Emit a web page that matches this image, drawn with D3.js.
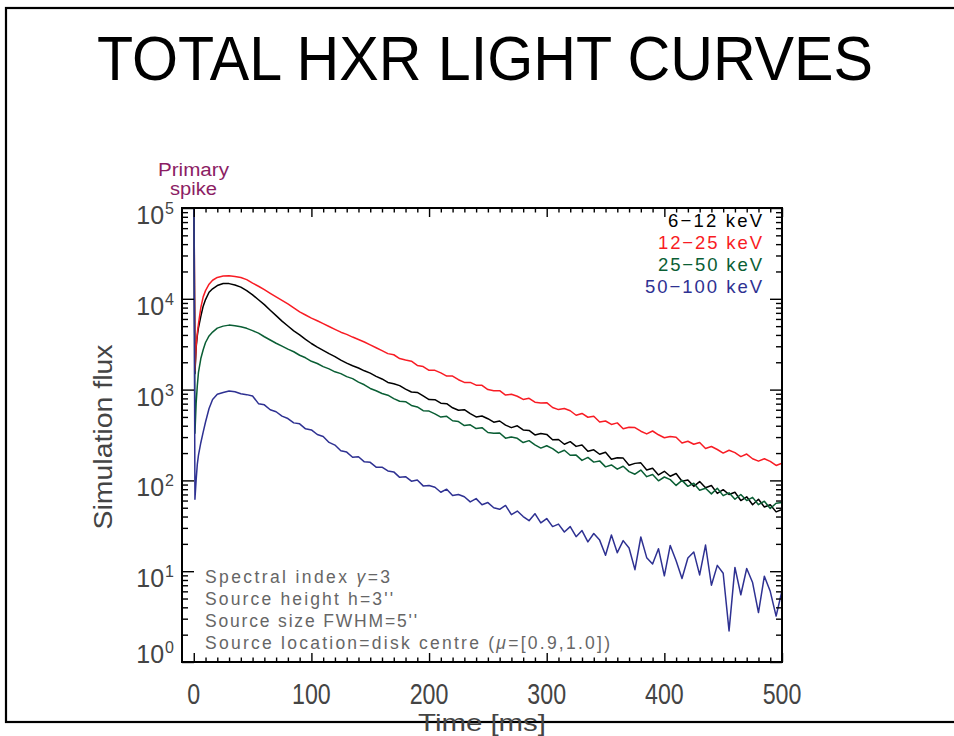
<!DOCTYPE html>
<html><head><meta charset="utf-8">
<script src="https://cdn.jsdelivr.net/npm/d3@7"></script>
<style>body{margin:0;background:#fff;} svg{display:block;}</style>
</head><body><svg id="c" width="954" height="736"></svg>
<script>
// ---------------- data ----------------
const time = [0,1,2,3,4,6,8,10,13,16,
  20,25,30,35,40,45,50,55,60,65,70,75,80,85,90,95,100,105,110,115,120,125,130,135,140,145,150,155,
  160,165,170,175,180,185,190,195,200,205,210,215,220,225,230,235,240,245,250,255,
  260,265,270,275,280,285,290,295,300,305,310,315,320,325,330,335,340,345,350,355,
  360,365,370,375,380,385,390,395,400,405,410,415,420,425,430,435,440,445,450,455,
  460,465,470,475,480,485,490,495,500];

const flux6_12 = [400000,1500,2900,3900,4800,6400,8300,9800,11800,12900,
  14000,14750,14700,14200,13450,12300,11050,9750,8620,7480,6530,5680,5020,4430,4010,3580,3220,2940,2710,2490,2310,2110,1960,1830,1730,1610,1520,1400,
  1310,1200,1162,1105,1011,940,931,851,776,774,709,699,631,592,601,543,500,512,478,438,
  451,406,381,399,360,355,317,329,321,280,282,250,267,237,245,209,217,194,204,171,
  178,176,147,154,156,130,136,115,126,111,119,98,101,86,97,83,88,72,79,70,
  74,60,66,54,62,51,54,45,48];

const flux12_25 = [400000,1600,3000,4200,5300,8000,10500,12300,14500,16000,
  17200,17800,17900,17650,17150,16250,14850,13750,12650,11500,10500,9620,8780,7930,7180,6630,6120,5730,5330,4960,4610,4290,4060,3790,3560,3340,3110,2890,
  2690,2490,2420,2195,2115,2055,1845,1795,1630,1630,1530,1410,1410,1285,1200,1200,1120,1115,1000,972,
  972,870,888,845,780,802,726,711,718,635,602,618,585,522,546,496,508,439,451,413,
  430,371,385,382,348,325,350,318,295,305,299,258,270,250,262,225,236,219,200,215,
  202,183,195,173,163,173,162,146,155];

const flux25_50 = [400000,330,700,1100,1550,2200,2750,3300,3900,4300,
  4750,5000,5130,5060,4920,4730,4460,4190,3820,3520,3240,3010,2790,2610,2390,2240,2050,1940,1790,1690,1570,1500,1390,1320,1210,1130,1030,970,
  905,868,796,744,737,669,644,585,580,541,498,508,454,445,402,410,372,381,337,330,
  333,292,301,291,261,274,246,227,241,224,201,215,189,190,166,179,159,164,141,148,
  133,143,125,117,130,110,116,99,109,102,88,100,86,93,78,82,71,82,68,73,
  62,70,60,65,54,59,49,56,57];

const flux50_100 = [400000,62,100,150,190,260,340,440,620,780,
  890,930,965,945,900,880,850,700,680,600,570,510,480,430,420,370,360,320,305,262,245,212,205,180,182,160,158,140,
  140,127,124,108,110,98,101,87,88,84,74,80,68,70,66,58,63,54,57,50,
  48,53,42,46,40,36,43,34,38,31,33,27,31,24,28,21,26,22,15,25,
  16,21.7,18,10.4,23.8,14.1,12,17.7,8.9,19.2,13,8.3,14,16.3,9.1,19.4,7,11.6,9.5,2.2,
  11,5.5,10.7,7.5,3.5,8.8,6,3.2,6.1];

const seriesNames = ["6\u221212 keV","12\u221225 keV","25\u221250 keV","50\u2212100 keV"];
const seriesData = [flux6_12, flux12_25, flux25_50, flux50_100];
const seriesColors = ["#000000","#f81c24","#0a5e34","#2e3192"];
const xTickLabels = [0,100,200,300,400,500];
const yTickValues = [1,10,100,1000,10000,100000];
const yTickExponents = ["0","1","2","3","4","5"];
const titleText = "TOTAL HXR LIGHT CURVES";
const xTitle = "Time [ms]";
const yTitle = "Simulation flux";
const spikeLabel = ["Primary","spike"];

// ---------------- layout ----------------
const svg = d3.select("#c");
const L = 182, R = 782, T = 208, B = 662;
const x = d3.scaleLinear().domain([-10, 500]).range([L, R]);
const y = d3.scaleLog().domain([1, 1e5]).range([B, T]);
const FONT = "'Liberation Sans', Arial, Helvetica, sans-serif";

// slide frame
svg.append("rect").attr("x", 6).attr("y", 8).attr("width", 1000).attr("height", 714)
  .attr("fill", "none").attr("stroke", "#000").attr("stroke-width", 2.2);

// title
svg.append("text").attr("x", 485).attr("y", 80).attr("text-anchor", "middle")
  .attr("font-family", FONT).attr("font-size", 63)
  .attr("textLength", 776).attr("lengthAdjust", "spacingAndGlyphs")
  .attr("fill", "#000").text(titleText);

// clip
svg.append("clipPath").attr("id", "plotclip").append("rect")
  .attr("x", L).attr("y", T).attr("width", R - L).attr("height", B - T);

// curves
const line = d3.line().x((d, i) => x(time[i])).y(d => y(d));
const gLines = svg.append("g").attr("clip-path", "url(#plotclip)");
seriesData.forEach((s, k) => {
  gLines.append("path").datum(s).attr("d", line)
    .attr("fill", "none").attr("stroke", seriesColors[k])
    .attr("stroke-width", 1.5).attr("stroke-linejoin", "round");
});

// axes ticks (inward, all four sides)
const xMinor = d3.range(0, 501, 10).filter(v => v % 100 !== 0);
const yMinor = [];
[1, 10, 100, 1000, 10000].forEach(d => { for (let m = 2; m <= 9; m++) yMinor.push(m * d); });

function styleAxis(g) {
  g.select(".domain").remove();
  g.selectAll(".tick line").attr("stroke", "#000").attr("stroke-width", 1.4);
  g.selectAll(".tick text").remove();
}
svg.append("g").attr("transform", `translate(0,${B})`)
  .call(d3.axisBottom(x).tickValues(xTickLabels).tickSize(-9).tickFormat("")).call(styleAxis);
svg.append("g").attr("transform", `translate(0,${B})`)
  .call(d3.axisBottom(x).tickValues(xMinor).tickSize(-4.5).tickFormat("")).call(styleAxis);
svg.append("g").attr("transform", `translate(0,${T})`)
  .call(d3.axisTop(x).tickValues(xTickLabels).tickSize(-9).tickFormat("")).call(styleAxis);
svg.append("g").attr("transform", `translate(0,${T})`)
  .call(d3.axisTop(x).tickValues(xMinor).tickSize(-4.5).tickFormat("")).call(styleAxis);
svg.append("g").attr("transform", `translate(${L},0)`)
  .call(d3.axisLeft(y).tickValues(yTickValues).tickSize(-12).tickFormat("")).call(styleAxis);
svg.append("g").attr("transform", `translate(${L},0)`)
  .call(d3.axisLeft(y).tickValues(yMinor).tickSize(-6).tickFormat("")).call(styleAxis);
svg.append("g").attr("transform", `translate(${R},0)`)
  .call(d3.axisRight(y).tickValues(yTickValues).tickSize(-12).tickFormat("")).call(styleAxis);
svg.append("g").attr("transform", `translate(${R},0)`)
  .call(d3.axisRight(y).tickValues(yMinor).tickSize(-6).tickFormat("")).call(styleAxis);

// plot frame
svg.append("rect").attr("x", L).attr("y", T).attr("width", R - L).attr("height", B - T)
  .attr("fill", "none").attr("stroke", "#000").attr("stroke-width", 2);

// x tick labels
svg.append("g").selectAll("text").data(xTickLabels).join("text")
  .attr("transform", d => `translate(${x(d)},704) scale(0.8,1)`)
  .attr("text-anchor", "middle").attr("font-family", FONT).attr("font-size", 29)
  .attr("fill", "#444").text(d => d);

// y tick labels 10^n
const yl = svg.append("g").selectAll("text").data(yTickValues).join("text")
  .attr("x", 174)
  .attr("y", (d, i) => i === 0 ? y(d) + 1 : y(d) + 16)
  .attr("text-anchor", "end").attr("font-family", FONT).attr("fill", "#444");
yl.append("tspan").attr("font-size", 25).text("10");
yl.append("tspan").attr("font-size", 16).attr("dy", -10).attr("dx", 1)
  .text((d, i) => yTickExponents[i]);

// axis titles
svg.append("text").attr("transform", "translate(112,437) rotate(-90)")
  .attr("text-anchor", "middle").attr("font-family", FONT).attr("font-size", 26)
  .attr("textLength", 185).attr("lengthAdjust", "spacingAndGlyphs")
  .attr("fill", "#444").text(yTitle);
svg.append("text").attr("x", 482).attr("y", 731)
  .attr("text-anchor", "middle").attr("font-family", FONT).attr("font-size", 24)
  .attr("textLength", 128).attr("lengthAdjust", "spacingAndGlyphs")
  .attr("fill", "#444").text(xTitle);

// legend
const legW = [94, 104, 104, 117];
const legY = [227, 249, 271, 293];
seriesNames.forEach((n, k) => {
  svg.append("text").attr("x", 762 - legW[k]).attr("y", legY[k])
    .attr("font-family", FONT).attr("font-size", 18.5)
    .attr("textLength", legW[k]).attr("lengthAdjust", "spacing")
    .attr("fill", seriesColors[k]).text(n);
});

// primary spike label
const spikeW = [71, 47];
spikeLabel.forEach((s, k) => {
  svg.append("text").attr("x", 193.5 - spikeW[k] / 2).attr("y", 176 + k * 19)
    .attr("font-family", FONT).attr("font-size", 18)
    .attr("textLength", spikeW[k]).attr("lengthAdjust", "spacingAndGlyphs")
    .attr("fill", "#8c1d64").text(s);
});

// notes
const notes = [
  [["Spectral index ", false], ["\u03b3", true], ["=3", false]],
  [["Source height h=3''", false]],
  [["Source size FWHM=5''", false]],
  [["Source location=disk centre (", false], ["\u03bc", true], ["=[0.9,1.0])", false]]
];
const noteW = [185, 188, 212, 405];
notes.forEach((parts, k) => {
  const t = svg.append("text").attr("x", 205).attr("y", 583 + k * 22)
    .attr("font-family", FONT).attr("font-size", 17.5)
    .attr("textLength", noteW[k]).attr("lengthAdjust", "spacing")
    .attr("fill", "#666");
  parts.forEach(p => t.append("tspan").attr("font-style", p[1] ? "italic" : "normal").text(p[0]));
});
</script></body></html>
